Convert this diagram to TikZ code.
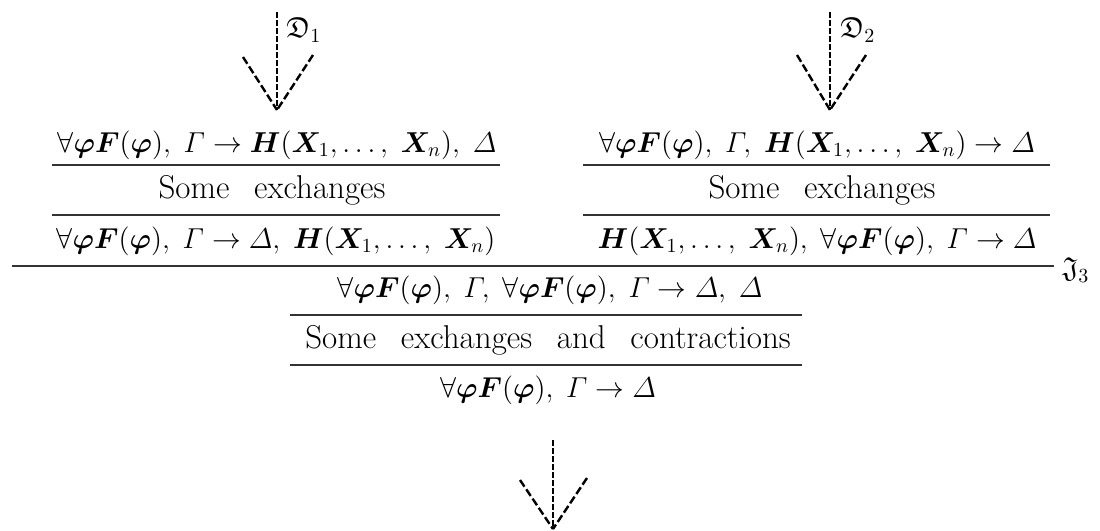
\documentclass[tikz,border=0pt]{standalone}
\usepackage{amsmath,amssymb,bm}
\newcommand{\AllF}{\forall\bm{\varphi}\bm{F}(\bm{\varphi})}
\newcommand{\Hx}{\bm{H}(\bm{X}_{1},\ldots,\;\bm{X}_{n})}
\newcommand{\wsp}{\hspace{0.75em}}
\begin{document}
\begin{tikzpicture}[x=0.5pt,y=-0.5pt,
  seq/.style={inner sep=0pt, font=\fontsize{14.4}{17}\selectfont},
  txt/.style={inner sep=0pt, font=\fontsize{16.5}{19}\selectfont},
  lab/.style={inner sep=0pt, anchor=west, font=\fontsize{14.4}{17}\selectfont},
  rule/.style={line width=0.7pt, draw=black!80},
  vdash/.style={line width=1.1pt, dash pattern=on 3pt off 1pt},
  wing/.style={line width=1.2pt, dash pattern=on 4pt off 1.6pt},
]
\useasboundingbox (0,0) rectangle (1100,531);
% left top arrow
\coordinate (l0) at (277,12);
\coordinate (lt) at (277,110);
\coordinate (ll) at (243,57);
\coordinate (lr) at (313,55);
\draw[vdash] (l0) -- (lt);
\draw[wing] (ll) -- (lt);
\draw[wing] (lr) -- (lt);
\node[lab] (D1) at (286,30) {$\mathfrak{D}_{1}$};
% right top arrow
\coordinate (r0) at (830,12);
\coordinate (rt) at (830,110);
\coordinate (rl) at (797,55);
\coordinate (rr) at (866,55);
\draw[vdash] (r0) -- (rt);
\draw[wing] (rl) -- (rt);
\draw[wing] (rr) -- (rt);
\node[lab] (D2) at (840,30) {$\mathfrak{D}_{2}$};
% left column
\node[seq] (a1) at (277,145) {$\AllF,\;\varGamma\rightarrow\Hx,\;\varDelta$};
\node[txt] (a2) at (272,190) {Some\wsp exchanges};
\node[seq] (a3) at (276,241) {$\AllF,\;\varGamma\rightarrow\varDelta,\;\Hx$};
\draw[rule] (52,165) -- (500,165);
\draw[rule] (52,215) -- (500,215);
% right column
\node[seq] (b1) at (817,145) {$\AllF,\;\varGamma,\;\Hx\rightarrow\varDelta$};
\node[txt] (b2) at (822,190) {Some\wsp exchanges};
\node[seq] (b3) at (817,241) {$\Hx,\;\AllF,\;\varGamma\rightarrow\varDelta$};
\draw[rule] (583,165) -- (1050,165);
\draw[rule] (583,215) -- (1050,215);
% cut line
\draw[rule] (12,266) -- (1054,266);
\node[lab] (J3) at (1062,270) {$\mathfrak{J}_{3}$};
% bottom part
\node[seq] (c1) at (550,290) {$\AllF,\;\varGamma,\;\AllF,\;\varGamma\rightarrow\varDelta,\;\varDelta$};
\node[txt] (c2) at (548,340) {Some\wsp exchanges\wsp and\wsp contractions};
\node[seq] (c3) at (548,390) {$\AllF,\;\varGamma\rightarrow\varDelta$};
\draw[rule] (290,315) -- (802,315);
\draw[rule] (290,365) -- (802,365);
% bottom arrow
\coordinate (b0) at (553,440);
\coordinate (bt) at (553,529);
\coordinate (bl) at (520,480);
\coordinate (br) at (587,478);
\draw[vdash] (b0) -- (bt);
\draw[wing] (bl) -- (bt);
\draw[wing] (br) -- (bt);
\end{tikzpicture}
\end{document}
